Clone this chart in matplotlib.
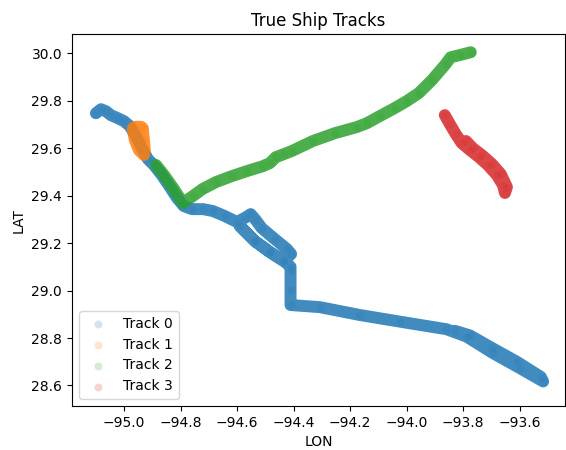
import matplotlib
matplotlib.use("Agg")
import matplotlib.pyplot as plt

# Track 0 (blue)
lon0 = [-95.100, -95.082, -95.065, -95.047, -95.022, -95.001, -94.980, -94.959, -94.937,
        -94.916, -94.895, -94.867, -94.838, -94.813, -94.789, -94.760, -94.721, -94.686,
        -94.644, -94.601, -94.573, -94.552, -94.534, -94.513, -94.467, -94.424, -94.409,
        -94.434, -94.484, -94.537, -94.590, -94.537, -94.484, -94.434, -94.411,
        -94.411, -94.411, -94.411, -94.307, -94.166, -94.024, -93.859, -93.788, -93.694,
        -93.599, -93.517, -93.525, -93.610, -93.698, -93.776, -93.829]
lat0 = [29.747, 29.764, 29.756, 29.739, 29.726, 29.714, 29.693, 29.651, 29.600,
        29.554, 29.529, 29.487, 29.436, 29.390, 29.356, 29.343, 29.343, 29.335,
        29.314, 29.289, 29.306, 29.322, 29.297, 29.263, 29.217, 29.175, 29.154,
        29.124, 29.162, 29.208, 29.271, 29.208, 29.162, 29.124, 29.100,
        29.087, 29.003, 28.939, 28.930, 28.897, 28.869, 28.837, 28.806, 28.736,
        28.673, 28.617, 28.636, 28.700, 28.758, 28.811, 28.830]

# Track 1 (orange)
lon1 = [-94.969, -94.934, -94.930, -94.927, -94.930, -94.948, -94.962, -94.969,
        -94.948, -94.944, -94.938, -94.960, -94.940]
lat1 = [29.684, 29.684, 29.634, 29.592, 29.571, 29.592, 29.634, 29.676,
        29.659, 29.613, 29.650, 29.690, 29.690]

# Track 2 (green)
lon2 = [-94.887, -94.856, -94.824, -94.792, -94.757, -94.722, -94.675, -94.619, -94.566,
        -94.509, -94.484, -94.463, -94.434, -94.406, -94.332, -94.254, -94.176, -94.141,
        -94.095, -94.042, -94.000, -93.957, -93.911, -93.862, -93.844, -93.812, -93.773]
lat2 = [29.529, 29.482, 29.428, 29.369, 29.398, 29.428, 29.457, 29.482, 29.503,
        29.524, 29.537, 29.562, 29.575, 29.588, 29.630, 29.663, 29.689, 29.705,
        29.735, 29.769, 29.798, 29.832, 29.886, 29.954, 29.983, 29.992, 30.004]

# Track 3 (red)
lon3 = [-93.865, -93.847, -93.826, -93.805, -93.776, -93.744, -93.713, -93.681, -93.659,
        -93.652, -93.645, -93.667, -93.698, -93.734, -93.766, -93.790]
lat3 = [29.739, 29.701, 29.659, 29.621, 29.592, 29.562, 29.529, 29.487, 29.444,
        29.411, 29.436, 29.491, 29.533, 29.571, 29.600, 29.630]

tracks = [(lon0, lat0), (lon1, lat1), (lon2, lat2), (lon3, lat3)]
labels = ["Track 0", "Track 1", "Track 2", "Track 3"]
colors = ["#1f77b4", "#ff7f0e", "#2ca02c", "#d62728"]

fig = plt.figure(figsize=(5.66, 4.5), dpi=100)
ax = fig.add_axes([0.127, 0.098, 0.871, 0.826])

for (lo, la), lab, c in zip(tracks, labels, colors):
    ax.plot(lo, la, '-', color=c, lw=8.6, alpha=0.85,
            solid_capstyle='round', solid_joinstyle='round')
    ax.scatter(lo, la, s=33, color=c, alpha=0.2, label=lab, linewidths=0)

ax.set_xlim(-95.185, -93.44)
ax.set_ylim(28.514, 30.08)
ax.set_xticks([-95.0, -94.8, -94.6, -94.4, -94.2, -94.0, -93.8, -93.6])
ax.set_yticks([28.6, 28.8, 29.0, 29.2, 29.4, 29.6, 29.8, 30.0])
ax.set_xlabel("LON")
ax.set_ylabel("LAT")
ax.set_title("True Ship Tracks", fontsize=12)
ax.legend(loc="lower left")

fig.savefig("out.png", dpi=100)
